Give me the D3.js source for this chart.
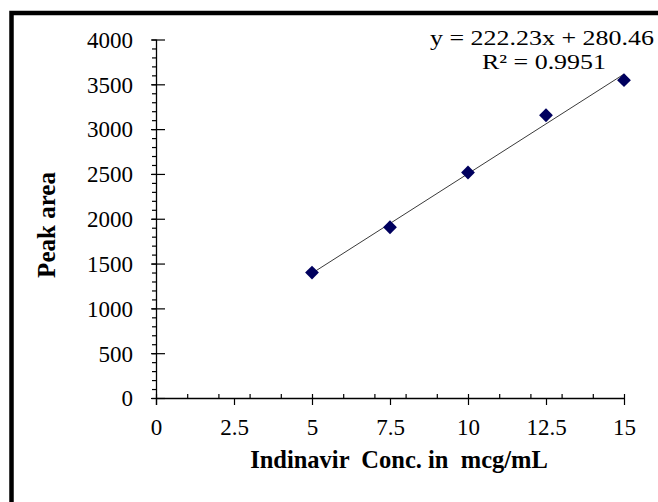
<!DOCTYPE html>
<html>
<head>
<meta charset="utf-8">
<script src="https://cdn.jsdelivr.net/npm/d3@7"></script>
<style>
  html, body { margin: 0; padding: 0; background: #fff; }
  svg { display: block; }
</style>
</head>
<body>
<svg id="chart" width="658" height="502"></svg>
<script>
// Data
const concentrations = [5, 7.5, 10, 12.5, 15];
const peakAreas = [1400, 1905, 2516, 3155, 3546];
const xTickValues = [0, 2.5, 5, 7.5, 10, 12.5, 15];
const yTickValues = [0, 500, 1000, 1500, 2000, 2500, 3000, 3500, 4000];
const slope = 222.23;
const intercept = 280.46;
const equationText = "y = 222.23x + 280.46";
const r2Text = "R\u00B2 = 0.9951";
const xTitle = "Indinavir  Conc. in  mcg/mL";
const yTitle = "Peak area";

const FONT = '"Liberation Serif", "Times New Roman", serif';
const svg = d3.select("#chart");
const W = 658, H = 502;

svg.append("rect").attr("width", W).attr("height", H).attr("fill", "#fff");
// frame (cropped on right/bottom)
svg.append("rect")
  .attr("x", 11.5).attr("y", 13)
  .attr("width", 700).attr("height", 600)
  .attr("fill", "none").attr("stroke", "#000").attr("stroke-width", 4.5);

const x = d3.scaleLinear().domain([0, 15]).range([156, 624]);
const y = d3.scaleLinear().domain([0, 4000]).range([398, 39.5]);

const fs = 23;

// X axis: minor ticks (inside, up) at integers
const xMinor = d3.range(0, 16, 1);
svg.append("g").attr("transform", `translate(0,${y(0)})`)
  .call(d3.axisBottom(x).tickValues(xMinor).tickSize(-4).tickSizeOuter(0).tickFormat(""))
  .call(g => g.select(".domain").remove())
  .call(g => g.selectAll("line").attr("stroke", "#000").attr("stroke-width", 1.2));

// X axis major (down)
const gx = svg.append("g").attr("transform", `translate(0,${y(0)})`)
  .call(d3.axisBottom(x).tickValues(xTickValues).tickSize(7).tickSizeOuter(0).tickPadding(0)
        .tickFormat(d => String(d)));
gx.select(".domain").attr("stroke", "#000").attr("stroke-width", 1.3)
  .attr("d", `M${x(0)},0.5H${x(15)}`);
gx.selectAll("line").attr("stroke", "#000").attr("stroke-width", 1.2);
gx.selectAll("text").attr("y", 37).attr("dy", 0)
  .style("font-size", fs + "px").style("font-family", FONT).attr("fill", "#000");

// Y axis minor (left, outside) every 100
const yMinor = d3.range(0, 4001, 100);
svg.append("g").attr("transform", `translate(${x(0)},0)`)
  .call(d3.axisLeft(y).tickValues(yMinor).tickSize(4).tickSizeOuter(0).tickFormat(""))
  .call(g => g.select(".domain").remove())
  .call(g => g.selectAll("line").attr("stroke", "#000").attr("stroke-width", 1.2));

// Y axis major crossing: right part
svg.append("g").attr("transform", `translate(${x(0)},0)`)
  .call(d3.axisRight(y).tickValues(yTickValues).tickSize(9).tickSizeOuter(0).tickFormat(""))
  .call(g => g.select(".domain").remove())
  .call(g => g.selectAll("line").attr("stroke", "#000").attr("stroke-width", 1.2));

// Y axis major left part + labels
const gy = svg.append("g").attr("transform", `translate(${x(0)},0)`)
  .call(d3.axisLeft(y).tickValues(yTickValues).tickSize(5).tickSizeOuter(0).tickPadding(18)
        .tickFormat(d => String(d)));
gy.select(".domain").attr("stroke", "#000").attr("stroke-width", 1.3)
  .attr("d", `M0.5,${y(4000)}V${y(0) + 7}`);
gy.selectAll("line").attr("stroke", "#000").attr("stroke-width", 1.2);
gy.selectAll("text").attr("dy", "0.34em")
  .style("font-size", fs + "px").style("font-family", FONT).attr("fill", "#000");

// Trendline
const lineData = [concentrations[0], concentrations[concentrations.length - 1]].map(c => [c, slope * c + intercept]);
svg.append("path")
  .datum(lineData)
  .attr("d", d3.line().x(d => x(d[0])).y(d => y(d[1])))
  .attr("stroke", "#3a3a3a").attr("stroke-width", 1).attr("fill", "none");

// Points (diamonds)
const diamond = d3.symbol().type(d3.symbolSquare).size(95);
svg.append("g").selectAll("path")
  .data(concentrations.map((c, i) => [c, peakAreas[i]]))
  .join("path")
  .attr("transform", d => `translate(${x(d[0])},${y(d[1])}) rotate(45)`)
  .attr("d", diamond)
  .attr("fill", "#00005e");

// Equation
svg.append("text").attr("x", 542).attr("y", 45).attr("text-anchor", "middle")
  .style("font-family", FONT).style("font-size", "22px").attr("fill", "#000")
  .attr("textLength", 224).attr("lengthAdjust", "spacingAndGlyphs")
  .text(equationText);
svg.append("text").attr("x", 544).attr("y", 69).attr("text-anchor", "middle")
  .style("font-family", FONT).style("font-size", "22px").attr("fill", "#000")
  .attr("textLength", 124).attr("lengthAdjust", "spacingAndGlyphs")
  .text(r2Text);

// Axis titles
svg.append("text").attr("x", 399).attr("y", 468).attr("text-anchor", "middle")
  .style("font-family", FONT).style("font-size", "24.5px").style("font-weight", "bold")
  .style("white-space", "pre").attr("fill", "#000")
  .text(xTitle);
svg.append("text").attr("transform", "translate(55,225) rotate(-90)").attr("text-anchor", "middle")
  .style("font-family", FONT).style("font-size", "25px").style("font-weight", "bold")
  .attr("fill", "#000")
  .text(yTitle);
</script>
</body>
</html>
